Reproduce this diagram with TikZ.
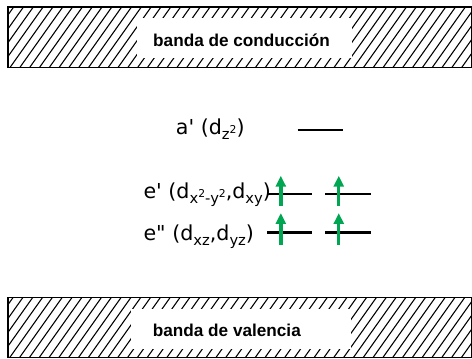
\documentclass[tikz,border=0pt]{standalone}
\usepackage{fontspec}
\setmainfont{Liberation Sans}
\newfontfamily\orbfont{DejaVu Sans}
\usetikzlibrary{arrows.meta}
\newcommand{\lo}[1]{\raisebox{-.45ex}{\fontsize{15}{15}\selectfont #1}}
\newcommand{\hi}[1]{\raisebox{.75ex}{\fontsize{11}{11}\selectfont #1}}
\begin{document}
\begin{tikzpicture}[
    x=1pt,y=-1pt,
    bandlabel/.style={font=\bfseries\fontsize{17.5}{17.5}\selectfont,anchor=base},
    orblabel/.style={font=\orbfont\fontsize{21}{21}\selectfont,anchor=base west,inner sep=0pt},
    hatchline/.style={line width=1.1pt},
    bandedge/.style={line width=1.4pt},
    level/.style={line width=2pt},
    spin/.style={line width=3.5pt,draw=spingreen,-{Triangle[width=10pt,length=11pt]}}
  ]
    \definecolor{spingreen}{HTML}{00A651}
    % conduction band
    \begin{scope}
      \clip (8,7) rectangle (480,69);
      \foreach \i in {-8,...,48}
        \draw[hatchline] (\i*10,69)--++(44,-62);
    \end{scope}
    \draw[bandedge] (8,7) rectangle (480,69);
    \fill[white] (140,18) rectangle (358,59);
    \node[bandlabel] (cond) at (246,47) {banda de conducción};
    % valence band
    \begin{scope}
      \clip (8,303) rectangle (480,364);
      \foreach \i in {-8,...,48}
        \draw[hatchline] (\i*10,364)--++(44,-62);
    \end{scope}
    \draw[bandedge] (8,303) rectangle (480,364);
    \fill[white] (133,315) rectangle (357,355);
    \node[bandlabel] (val) at (231,343) {banda de valencia};
    % d levels
    \node[orblabel] (aprime) at (179,137) {a\textquotesingle\ (d\lo{z\hi{2}})};
    \node[orblabel] (eprime) at (146,202) {e\textquotesingle\ (d\lo{x\hi{2}-y\hi{2}},d\lo{xy})};
    \node[orblabel] (edprime) at (146,245) {e\textquotedbl\ (d\lo{xz},d\lo{yz})};
    \draw[level,line width=2.2pt] (303,132)--(349,132);
    \draw[level] (272,198)--(318,198);
    \draw[level] (331,198)--(378,198);
    \draw[level,line width=3.2pt] (272,237)--(318,237);
    \draw[level,line width=3.2pt] (331,237)--(378,237);
    % electrons
    \draw[spin] (286,210)--(286,179);
    \draw[spin] (345,210)--(345,179);
    \draw[spin] (286,249)--(286,217);
    \draw[spin] (345,249)--(345,217);
    \path[use as bounding box] (0,0) rectangle (472,365);
  \end{tikzpicture}
\end{document}
